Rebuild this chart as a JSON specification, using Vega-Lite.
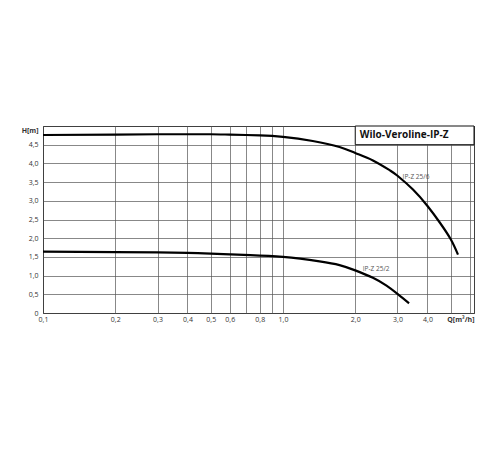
{
  "$schema": "https://vega.github.io/schema/vega-lite/v6.json",
  "width": 431,
  "height": 187,
  "autosize": "none",
  "padding": {"left": 43, "top": 126, "right": 26, "bottom": 137},
  "background": "white",
  "config": {
    "view": {"stroke": "#111", "strokeWidth": 1},
    "font": "Open Sans"
  },
  "datasets": {
    "curves": [
      {"q": 0.1, "h": 4.76, "pump": "IP-Z 25/6"},
      {"q": 0.2, "h": 4.77, "pump": "IP-Z 25/6"},
      {"q": 0.3, "h": 4.78, "pump": "IP-Z 25/6"},
      {"q": 0.4, "h": 4.78, "pump": "IP-Z 25/6"},
      {"q": 0.5, "h": 4.78, "pump": "IP-Z 25/6"},
      {"q": 0.6, "h": 4.77, "pump": "IP-Z 25/6"},
      {"q": 0.8, "h": 4.75, "pump": "IP-Z 25/6"},
      {"q": 1.0, "h": 4.71, "pump": "IP-Z 25/6"},
      {"q": 1.33, "h": 4.6, "pump": "IP-Z 25/6"},
      {"q": 1.72, "h": 4.44, "pump": "IP-Z 25/6"},
      {"q": 2.0, "h": 4.28, "pump": "IP-Z 25/6"},
      {"q": 2.37, "h": 4.08, "pump": "IP-Z 25/6"},
      {"q": 2.78, "h": 3.82, "pump": "IP-Z 25/6"},
      {"q": 3.0, "h": 3.67, "pump": "IP-Z 25/6"},
      {"q": 3.48, "h": 3.3, "pump": "IP-Z 25/6"},
      {"q": 4.0, "h": 2.86, "pump": "IP-Z 25/6"},
      {"q": 4.5, "h": 2.42, "pump": "IP-Z 25/6"},
      {"q": 5.0, "h": 1.97, "pump": "IP-Z 25/6"},
      {"q": 5.36, "h": 1.56, "pump": "IP-Z 25/6"},
      {"q": 0.1, "h": 1.64, "pump": "IP-Z 25/2"},
      {"q": 0.2, "h": 1.63, "pump": "IP-Z 25/2"},
      {"q": 0.3, "h": 1.62, "pump": "IP-Z 25/2"},
      {"q": 0.4, "h": 1.61, "pump": "IP-Z 25/2"},
      {"q": 0.5, "h": 1.59, "pump": "IP-Z 25/2"},
      {"q": 0.6, "h": 1.57, "pump": "IP-Z 25/2"},
      {"q": 0.73, "h": 1.55, "pump": "IP-Z 25/2"},
      {"q": 1.0, "h": 1.5, "pump": "IP-Z 25/2"},
      {"q": 1.42, "h": 1.38, "pump": "IP-Z 25/2"},
      {"q": 1.72, "h": 1.28, "pump": "IP-Z 25/2"},
      {"q": 2.0, "h": 1.14, "pump": "IP-Z 25/2"},
      {"q": 2.37, "h": 0.94, "pump": "IP-Z 25/2"},
      {"q": 2.7, "h": 0.73, "pump": "IP-Z 25/2"},
      {"q": 3.0, "h": 0.51, "pump": "IP-Z 25/2"},
      {"q": 3.35, "h": 0.26, "pump": "IP-Z 25/2"}
    ],
    "box": [{"q": 2.0, "q2": 6.25, "h": 4.5, "h2": 5.0}],
    "labels": [
      {"q": 2.09, "h": 4.75, "text": "Wilo-Veroline-IP-Z", "kind": "title"},
      {"q": 3.15, "h": 3.63, "text": "IP-Z 25/6", "kind": "curve"},
      {"q": 2.15, "h": 1.17, "text": "IP-Z 25/2", "kind": "curve"}
    ]
  },
  "encoding": {
    "x": {
      "field": "q",
      "type": "quantitative",
      "scale": {"type": "log", "domain": [0.1, 6.25], "nice": false},
      "axis": {
        "title": null,
        "values": [0.1, 0.2, 0.3, 0.4, 0.5, 0.6, 0.7, 0.8, 0.9, 1, 2, 3, 4, 5, 6, 6.25],
        "labelExpr": "datum.value == 6.25 ? 'Q[m³/h]' : (datum.value == 0.7 || datum.value == 0.9 || datum.value == 5 || datum.value == 6) ? '' : replace(format(datum.value, '.1f'), '.', ',')",
        "labelAlign": {"condition": {"test": "datum.value == 6.25", "value": "right"}, "value": "center"},
        "labelFontWeight": {"condition": {"test": "datum.value == 6.25", "value": "bold"}, "value": "normal"},
        "labelColor": "#333",
        "labelFontSize": 7,
        "labelPadding": 2,
        "labelOverlap": false,
        "labelFlush": false,
        "ticks": false,
        "domain": false,
        "grid": true,
        "gridColor": "#555",
        "gridOpacity": 1,
        "gridWidth": 0.7
      }
    },
    "y": {
      "field": "h",
      "type": "quantitative",
      "scale": {"domain": [0, 5], "nice": false},
      "axis": {
        "title": null,
        "values": [0, 0.5, 1, 1.5, 2, 2.5, 3, 3.5, 4, 4.5, 5],
        "labelExpr": "datum.value == 5 ? 'H[m]' : datum.value == 0 ? '0' : replace(format(datum.value, '.1f'), '.', ',')",
        "labelFontWeight": {"condition": {"test": "datum.value == 5", "value": "bold"}, "value": "normal"},
        "labelBaseline": {"condition": {"test": "datum.value == 5", "value": "top"}, "value": "middle"},
        "labelColor": "#333",
        "labelFontSize": 7,
        "labelPadding": 5,
        "labelOverlap": false,
        "labelFlush": false,
        "ticks": false,
        "domain": false,
        "grid": true,
        "gridColor": "#555",
        "gridOpacity": 1,
        "gridWidth": 0.7
      }
    }
  },
  "layer": [
    {
      "data": {"name": "curves"},
      "mark": {"type": "line", "color": "#000", "strokeWidth": 2.2, "interpolate": "natural"},
      "encoding": {
        "detail": {"field": "pump", "type": "nominal"}
      }
    },
    {
      "data": {"name": "box"},
      "mark": {"type": "rect", "fill": "white", "stroke": "#111", "strokeWidth": 1},
      "encoding": {
        "x2": {"field": "q2"},
        "y2": {"field": "h2"}
      }
    },
    {
      "data": {"name": "labels"},
      "transform": [{"filter": "datum.kind == 'curve'"}],
      "mark": {"type": "text", "align": "left", "baseline": "middle", "fontSize": 6.5, "color": "#555"},
      "encoding": {
        "text": {"field": "text"}
      }
    },
    {
      "data": {"name": "labels"},
      "transform": [{"filter": "datum.kind == 'title'"}],
      "mark": {"type": "text", "align": "left", "baseline": "middle", "fontSize": 10, "fontWeight": "bold", "color": "#111"},
      "encoding": {
        "text": {"field": "text"}
      }
    }
  ]
}
